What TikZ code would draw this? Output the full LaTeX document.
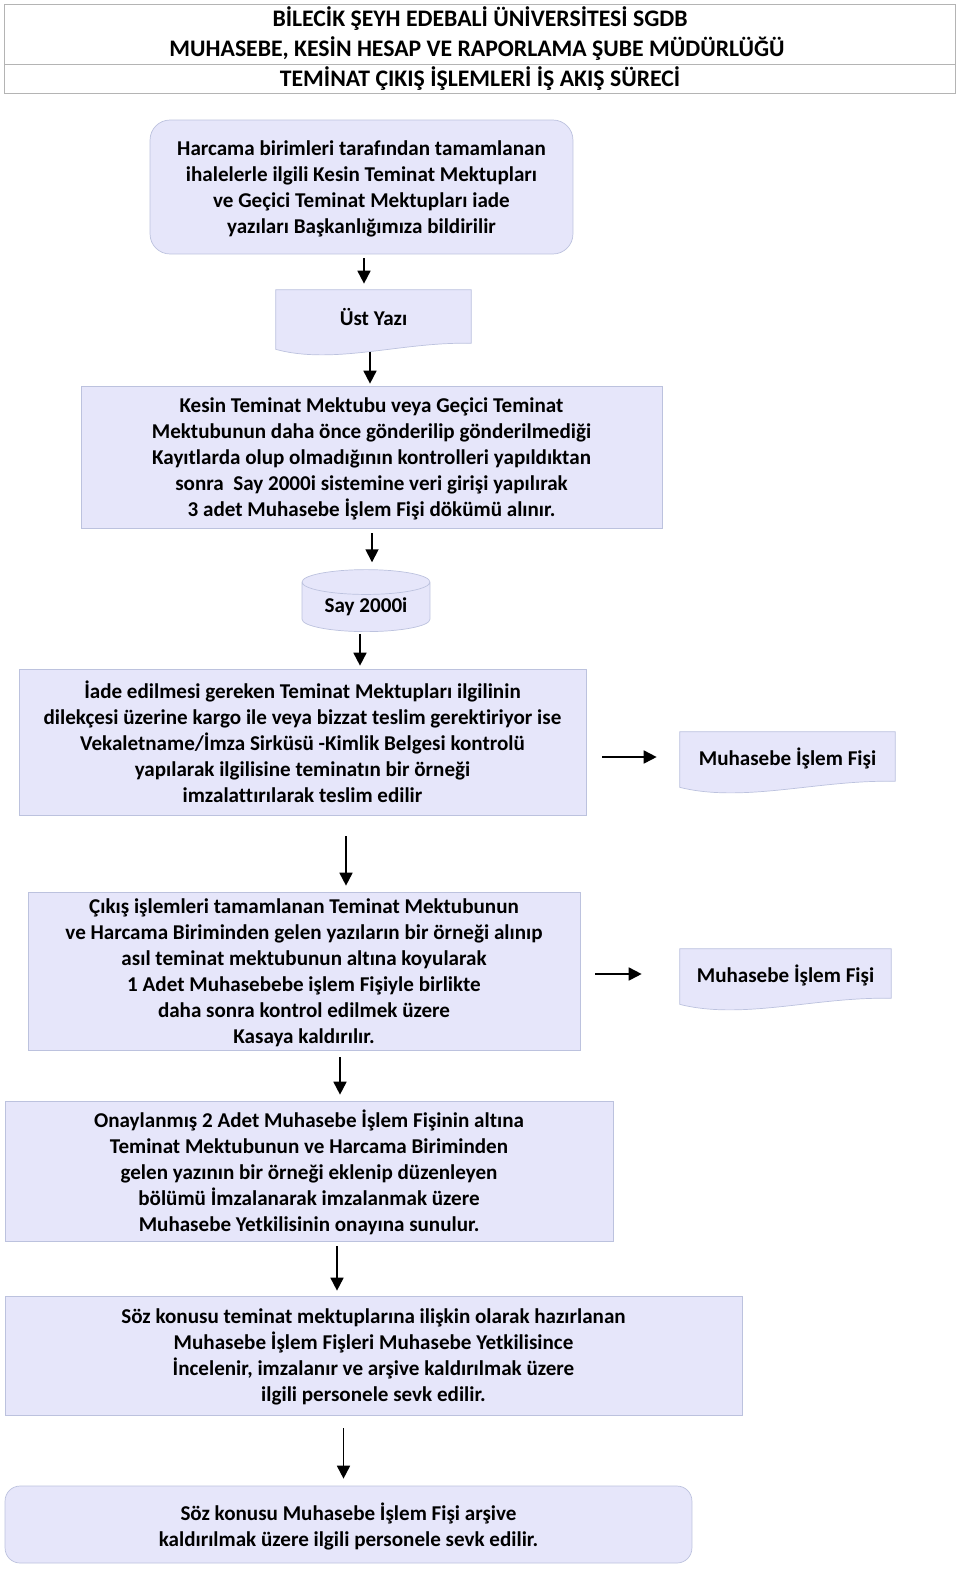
\documentclass[tikz,border=0pt]{standalone}
\usepackage{fontspec}
\setmainfont{Carlito}[Ligatures=NoCommon]
\usetikzlibrary{arrows.meta,calc,shapes.geometric,backgrounds}
\definecolor{akis-dolgu}{HTML}{E6E6FA}
\definecolor{akis-cerceve}{HTML}{BCC2DE}
\definecolor{akis-gri}{HTML}{B4B4B4}

\newcommand\govde{\fontsize{12}{14.8}\selectfont\bfseries}
\newcommand\baslikfont{\fontsize{13.5}{17}\selectfont\bfseries}

% belge sekli: alt kenari dalgali
\newcommand\belgeciz[1]{%
  \filldraw[draw=akis-cerceve, fill=akis-dolgu] (#1.north west) -- (#1.north east)
    -- ($(#1.south east)+(0,-1)$)
    .. controls ($(#1.south east)!0.35!(#1.south west)+(0,-3)$)
    and ($(#1.south east)!0.7!(#1.south west)+(0,21)$)
    .. ($(#1.south west)+(0,5)$) -- cycle;}

\tikzset{
  kutu/.style={draw=akis-cerceve, fill=akis-dolgu, inner sep=0pt, align=center, font=\govde, text depth=-2.6pt},
  yuvarlak/.style={kutu, rounded corners=0.4cm},
  belge/.style={inner sep=0pt, align=center, font=\govde, text depth=0pt},
  baslik/.style={font=\baslikfont, inner sep=0pt},
  ok/.style={-{Triangle[length=2.6mm,width=2.6mm]}, line width=1pt, black},
}

\begin{document}
\begin{tikzpicture}[x=0.02cm, y=-0.02cm]
    \useasboundingbox (0,0) rectangle (960,1572);

    % Baslik tablosu
    \draw[akis-gri] (4,4) rectangle (955,93);
    \draw[akis-gri] (4,64) -- (955,64);
    \node[baslik] (baslik1) at (480,19) {BİLECİK ŞEYH EDEBALİ ÜNİVERSİTESİ SGDB};
    \node[baslik] (baslik2) at (477,49) {MUHASEBE, KESİN HESAP VE RAPORLAMA ŞUBE MÜDÜRLÜĞÜ};
    \node[baslik] (baslik3) at (480,79) {TEMİNAT ÇIKIŞ İŞLEMLERİ İŞ AKIŞ SÜRECİ};

    % Akis kutulari
    \node[yuvarlak, minimum width=8.46cm, minimum height=2.68cm] (b1) at (361.5,187)
        {Harcama birimleri tarafından tamamlanan\\ihalelerle ilgili Kesin Teminat Mektupları\\ve Geçici Teminat Mektupları iade\\yazıları Başkanlığımıza bildirilir};
    \node[belge, minimum width=3.9cm, minimum height=1.08cm] (ust) at (373.5,317) {Üst Yazı};
    \node[kutu, minimum width=11.62cm, minimum height=2.84cm] (b3) at (371.5,457)
        {Kesin Teminat Mektubu veya Geçici Teminat\\Mektubunun daha önce gönderilip gönderilmediği\\Kayıtlarda olup olmadığının kontrolleri yapıldıktan\\sonra~ Say 2000i sistemine veri girişi yapılırak\\3 adet Muhasebe İşlem Fişi dökümü alınır.};
    \node[cylinder, shape border rotate=90, aspect=0.3, draw=akis-cerceve, fill=akis-dolgu,
          minimum height=1.24cm, minimum width=2.56cm, inner sep=0pt, font=\govde] (say) at (366,607) {Say 2000i};
    \node[kutu, minimum width=11.34cm, minimum height=2.92cm] (b4) at (302.5,742)
        {İade edilmesi gereken Teminat Mektupları ilgilinin\\dilekçesi üzerine kargo ile veya bizzat teslim gerektiriyor ise\\Vekaletname/İmza Sirküsü -Kimlik Belgesi kontrolü\\yapılarak ilgilisine teminatın bir örneği\\imzalattırılarak teslim edilir};
    \node[belge, minimum width=4.3cm, minimum height=1cm] (fis1) at (787.5,757) {Muhasebe İşlem Fişi};
    \node[kutu, minimum width=11.04cm, minimum height=3.16cm] (b5) at (304,971)
        {Çıkış işlemleri tamamlanan Teminat Mektubunun\\ve Harcama Biriminden gelen yazıların bir örneği alınıp\\asıl teminat mektubunun altına koyularak\\1 Adet Muhasebebe işlem Fişiyle birlikte\\daha sonra kontrol edilmek üzere\\Kasaya kaldırılır.};
    \node[belge, minimum width=4.22cm, minimum height=1cm] (fis2) at (785.5,974) {Muhasebe İşlem Fişi};
    \node[kutu, minimum width=12.16cm, minimum height=2.8cm] (b6) at (309,1171)
        {Onaylanmış 2 Adet Muhasebe İşlem Fişinin altına\\Teminat Mektubunun ve Harcama Biriminden\\gelen yazının bir örneği eklenip düzenleyen\\bölümü İmzalanarak imzalanmak üzere\\Muhasebe Yetkilisinin onayına sunulur.};
    \node[kutu, minimum width=14.74cm, minimum height=2.38cm] (b7) at (373.5,1355.5)
        {Söz konusu teminat mektuplarına ilişkin olarak hazırlanan\\Muhasebe İşlem Fişleri Muhasebe Yetkilisince\\İncelenir, imzalanır ve arşive kaldırılmak üzere\\ilgili personele sevk edilir.};
    \node[yuvarlak, rounded corners=0.3cm, minimum width=13.74cm, minimum height=1.54cm] (b8) at (348.5,1524.5)
        {Söz konusu Muhasebe İşlem Fişi arşive\\kaldırılmak üzere ilgili personele sevk edilir.};

    \begin{pgfonlayer}{background}
        \belgeciz{ust}
        \belgeciz{fis1}
        \belgeciz{fis2}
    \end{pgfonlayer}

    % Dikey oklar
    \foreach \ust/\alt/\dx/\a/\b in {b1/ust/2.5/0.08/0.12, ust/b3/-3.5/0.16/0.04,
        b3/say/0.5/0.1/0.14, say/b4/-6/0.04/0.06, b4/b5/43.5/0.42/0.12,
        b5/b6/36/0.14/0.12, b6/b7/28/0.1/0.1, b7/b8/-30/0.26/0.14} {
        \coordinate (o-\ust) at ($(\ust.south)+(\dx,0)$);
        \draw[ok, shorten <=\a cm, shorten >=\b cm] (o-\ust) -- (o-\ust |- \alt.north);
    }

    % Yan oklar
    \draw[ok, shorten <=0.32cm, shorten >=0.46cm] (b4.east |- fis1.west) -- (fis1.west);
    \draw[ok, shorten <=0.3cm, shorten >=0.76cm] (b5.east |- fis2.west) -- (fis2.west);
\end{tikzpicture}
\end{document}
